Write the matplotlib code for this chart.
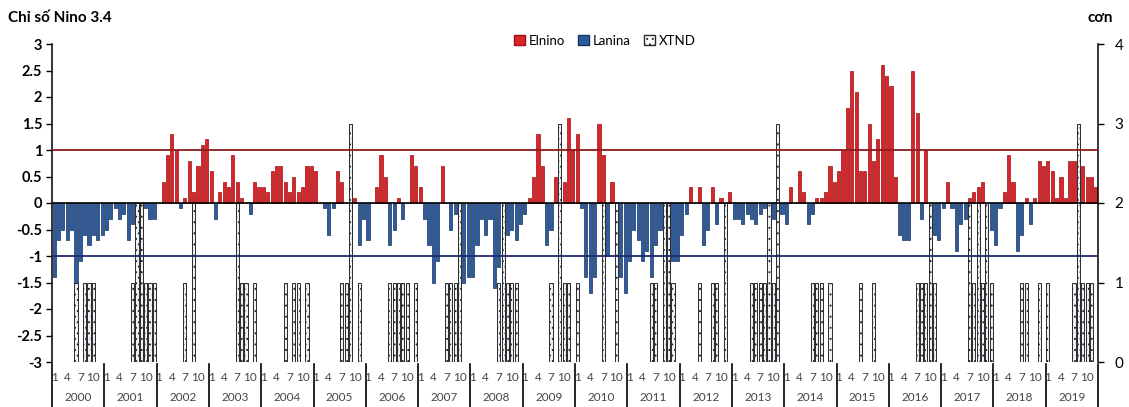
import matplotlib
matplotlib.use('Agg')
import matplotlib.pyplot as plt
import numpy as np
from matplotlib.patches import Patch
from matplotlib.transforms import blended_transform_factory

plt.rcParams['font.family'] = ['Lato', 'DejaVu Sans']
plt.rcParams['hatch.linewidth'] = 0.7

years = list(range(2000, 2020))
month_ticks = [1, 4, 7, 10]

# monthly Nino 3.4 index, one row per year
nino = [
    -1.4, -0.7, -0.5, -0.7, -0.5, -1.5, -1.1, -0.6, -0.8, -0.6, -0.7, -0.6,
    -0.5, -0.3, -0.1, -0.3, -0.2, -0.7, -0.4, -0.2, -0.1, -0.1, -0.3, -0.3,
    0.0, 0.4, 0.9, 1.3, 1.0, -0.1, 0.1, 0.8, 0.2, 0.7, 1.1, 1.2,
    0.6, -0.3, 0.2, 0.4, 0.3, 0.9, 0.4, 0.1, 0.0, -0.2, 0.4, 0.3,
    0.3, 0.2, 0.6, 0.7, 0.7, 0.4, 0.2, 0.5, 0.2, 0.3, 0.7, 0.7,
    0.6, 0.0, -0.1, -0.6, -0.1, 0.6, 0.4, 0.0, 0.0, 0.1, -0.8, -0.3,
    -0.7, 0.0, 0.3, 0.9, 0.5, -0.8, -0.5, 0.1, -0.3, 0.0, 0.9, 0.7,
    0.3, -0.3, -0.8, -1.5, -1.1, 0.7, 0.0, -0.5, -0.2, 0.0, -1.5, -1.4,
    -1.4, -0.8, -0.3, -0.6, -0.3, -1.6, -1.2, -1.0, -0.6, -0.5, -0.7, -0.4,
    -0.2, 0.1, 0.5, 1.3, 0.7, -0.8, -0.5, 0.5, 0.0, 0.4, 1.6, 1.0,
    1.3, -0.1, -1.4, -1.7, -1.4, 1.5, 0.9, -1.0, 0.4, 0.0, -1.4, -1.7,
    -1.1, -0.5, -0.7, -1.1, -0.9, -1.4, -0.8, -0.5, -0.2, -0.4, -1.1, -1.1,
    -0.6, -0.2, 0.3, 0.0, 0.3, -0.8, -0.5, 0.3, -0.4, 0.1, -0.2, 0.2,
    -0.3, -0.3, -0.4, -0.2, -0.3, -0.4, -0.2, -0.1, 0.0, -0.3, 0.0, -0.2,
    -0.4, 0.3, 0.0, 0.6, 0.2, -0.4, -0.2, 0.1, 0.1, 0.2, 0.7, 0.4,
    0.6, 1.0, 1.8, 2.5, 2.1, 0.6, 0.6, 1.5, 0.8, 1.2, 2.6, 2.4,
    2.2, 0.5, -0.6, -0.7, -0.7, 2.5, 1.7, -0.3, 1.0, 0.0, -0.6, -0.7,
    -0.1, 0.4, -0.1, -0.9, -0.4, -0.3, 0.1, 0.2, 0.3, 0.4, -0.7, -0.5,
    -0.8, -0.1, 0.2, 0.9, 0.4, -0.9, -0.6, 0.1, -0.4, 0.1, 0.8, 0.7,
    0.8, 0.6, 0.1, 0.5, 0.1, 0.8, 0.8, 0.0, 0.7, 0.5, 0.5, 0.3,
]

# number of tropical storms (XTND) per month
storms = [
    0, 0, 0, 0, 0, 1, 0, 1, 1, 1, 0, 0,
    0, 0, 0, 0, 0, 0, 1, 2, 2, 1, 1, 1,
    0, 0, 0, 0, 0, 0, 1, 0, 2, 0, 0, 0,
    0, 0, 0, 0, 0, 0, 2, 1, 1, 0, 1, 0,
    0, 0, 0, 0, 0, 1, 0, 1, 1, 0, 1, 0,
    0, 0, 0, 0, 0, 0, 1, 1, 3, 0, 1, 0,
    0, 0, 0, 0, 0, 1, 1, 1, 1, 1, 0, 1,
    0, 0, 0, 0, 0, 0, 1, 1, 1, 2, 0, 0,
    0, 0, 0, 0, 0, 0, 1, 2, 1, 1, 1, 0,
    0, 0, 0, 0, 0, 0, 1, 0, 3, 1, 1, 0,
    1, 0, 0, 0, 0, 0, 2, 0, 0, 2, 0, 0,
    0, 0, 0, 0, 0, 1, 1, 0, 2, 2, 1, 0,
    0, 0, 0, 0, 1, 0, 0, 1, 1, 0, 2, 0,
    0, 0, 0, 0, 1, 1, 1, 1, 2, 1, 3, 0,
    0, 0, 0, 0, 0, 0, 1, 1, 1, 0, 1, 0,
    0, 0, 0, 0, 0, 1, 0, 0, 1, 0, 0, 0,
    0, 0, 0, 0, 0, 0, 1, 1, 1, 2, 1, 0,
    0, 0, 0, 0, 0, 0, 2, 1, 2, 1, 2, 1,
    0, 0, 0, 0, 0, 0, 1, 1, 0, 0, 1, 0,
    1, 0, 0, 0, 0, 0, 1, 3, 1, 1, 1, 0,
]

RED = '#D8262B'
RED_EDGE = '#9E0F12'
BLUE = '#2D5C9E'
BLUE_EDGE = '#17325F'

fig = plt.figure(figsize=(11.29, 4.07), dpi=100)
ax = fig.add_axes([52 / 1129, 1 - 362 / 407, 1046 / 1129, 318 / 407])
ax2 = ax.twinx()

x = np.arange(len(nino))
vals = np.array(nino)
pos = vals >= 0
ax.bar(x[pos], vals[pos], width=0.72, color=RED, edgecolor=RED_EDGE, linewidth=0.5, zorder=2)
ax.bar(x[~pos], vals[~pos], width=0.72, color=BLUE, edgecolor=BLUE_EDGE, linewidth=0.5, zorder=2)

st = np.array(storms)
has = st > 0
ax2.bar(x[has], st[has], width=0.72, facecolor='#EEF1F5', edgecolor='#2A2A2A',
        hatch='...', linewidth=0.7, zorder=1)

# reference lines drawn on the top axes, in the Nino scale
ltrans = blended_transform_factory(ax2.transAxes, ax.transData)
ax2.plot([0, 1], [0, 0], transform=ltrans, color='black', lw=1.2, zorder=3)
ax2.plot([0, 1], [1, 1], transform=ltrans, color='#8E1B1B', lw=1.3, zorder=3)
ax2.plot([0, 1], [-1, -1], transform=ltrans, color='#1E2A6E', lw=1.3, zorder=3)

ax.set_xlim(-0.5, len(nino) - 0.5)
ax.set_ylim(-3, 3)
yt = np.arange(-3, 3.01, 0.5)
ax.set_yticks(yt)
ax.set_yticklabels([f'{v:g}' for v in yt], fontweight='bold')
ax.tick_params(axis='y', direction='out', length=4, width=1, labelsize=10.5, pad=3)
ax.set_xticks([])
ax2.set_ylim(0, 4)
ax2.set_yticks(range(5))
ax2.tick_params(axis='y', direction='out', length=4, width=1, labelsize=11, pad=8)
ax2.set_xticks([])

for a in (ax, ax2):
    a.spines['top'].set_visible(False)
    a.spines['bottom'].set_visible(False)
ax.spines['right'].set_visible(False)
ax2.spines['left'].set_visible(False)
ax.spines['left'].set_linewidth(1.1)
ax2.spines['right'].set_linewidth(1.1)

# two-level category axis: months and years
trans = blended_transform_factory(ax.transData, ax.transAxes)
for i, yr in enumerate(years):
    for m in month_ticks:
        ax.text(i * 12 + m - 1, -0.05, str(m), transform=trans, ha='center', va='center',
                fontsize=8.5, color='#444444')
    ax.text(i * 12 + 5.5, -0.113, str(yr), transform=trans, ha='center', va='center',
            fontsize=8.5, color='#444444')
for i in range(len(years) + 1):
    ax.plot([i * 12 - 0.5, i * 12 - 0.5], [-0.005, -0.145], transform=trans,
            color='black', lw=1.2, clip_on=False)

fig.text(8 / 1129, 1 - 18 / 407, 'Chỉ số Nino 3.4', fontsize=11, fontweight='bold',
         ha='left', va='center')
fig.text(1100 / 1129, 1 - 18 / 407, 'cơn', fontsize=11, fontweight='bold',
         ha='center', va='center')

handles = [Patch(facecolor=RED, edgecolor=RED_EDGE),
           Patch(facecolor=BLUE, edgecolor=BLUE_EDGE),
           Patch(facecolor='white', edgecolor='#2A2A2A', hatch='...')]
fig.legend(handles, ['Elnino', 'Lanina', 'XTND'], loc='center',
           bbox_to_anchor=(605 / 1129, 1 - 41 / 407), ncol=3, frameon=False,
           fontsize=9.5, handlelength=0.8, handleheight=0.8, columnspacing=1.0,
           handletextpad=0.3)

fig.savefig('out.png', dpi=100)
